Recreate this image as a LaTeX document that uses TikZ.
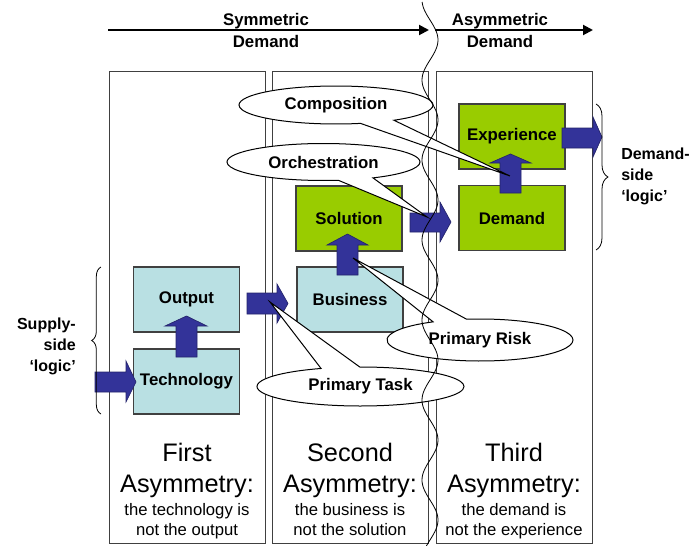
\documentclass[tikz,border=0pt]{standalone}
\usepackage{fontspec}
\setmainfont{Liberation Sans}
\usetikzlibrary{shapes.callouts,decorations.pathreplacing,arrows.meta}
\definecolor{lblue}{HTML}{B9E0E3}
\definecolor{lgreen}{HTML}{99CC00}
\definecolor{barrow}{HTML}{333399}
\begin{document}
\begin{tikzpicture}[x=0.75pt,y=-0.75pt,
 panel/.style={draw=black!75, line width=0.75pt, fill=white, minimum width=117pt, minimum height=354pt, inner sep=0},
 bbox/.style={draw=black!75, line width=0.9pt, minimum width=79.5pt, minimum height=48.75pt, inner sep=0, font=\fontsize{12.6}{15}\selectfont\bfseries},
 blk/.style={fill=barrow, draw=barrow!70!black, line width=0.5pt},
 call/.style={ellipse callout, draw=black, fill=white, line width=0.75pt, inner sep=0, callout pointer arc=22, font=\fontsize{12.6}{15}\selectfont\bfseries},
 lab/.style={font=\fontsize{12.6}{15.75}\selectfont\bfseries},
 sidelab/.style={font=\fontsize{12}{15.75}\selectfont\bfseries, inner sep=0},
 big/.style={font=\fontsize{19}{23}\selectfont, inner sep=0},
 small/.style={font=\fontsize{12.5}{15}\selectfont, inner sep=0},
 toparrow/.style={line width=1.5pt, -{Triangle[length=7.5pt,width=7.5pt]}},
]
\useasboundingbox (0,0) rectangle (694,546);

% top arrows
\coordinate (s1) at (108,30);
\coordinate (e1) at (429,30);
\coordinate (s2) at (435,30);
\coordinate (e2) at (593,30);
\draw[toparrow] (s1) -- (e1);
\draw[toparrow] (s2) -- (e2);
\node[lab, anchor=base] (sym1) at (266,26) {Symmetric};
\node[lab, anchor=base] (sym2) at (266,47) {Demand};
\node[lab, anchor=base] (asy1) at (500,26) {Asymmetric};
\node[lab, anchor=base] (asy2) at (500,47) {Demand};

% panels
\node[panel] (p1) at (187,307) {};
\node[panel] (p2) at (350,307) {};
\node[panel] (p3) at (514,307) {};

% boxes
\node[bbox, fill=lblue] (output) at (186.5,299.5) {Output};
\node[bbox, fill=lblue] (tech) at (186.5,381.5) {Technology};
\node[bbox, fill=lblue] (business) at (350,299.5) {Business};
\node[bbox, fill=lgreen] (solution) at (349,218.5) {Solution};
\node[bbox, fill=lgreen] (experience) at (512,136.5) {Experience};
\node[bbox, fill=lgreen] (demand) at (512,218) {Demand};

% block arrows (up)
\draw[blk] (176,357) -- (197,357) -- (197,326) -- (207,326) -- (186.5,316) -- (165,326) -- (176,326) -- cycle;
\draw[blk] (337,275) -- (358,275) -- (358,245) -- (368,245) -- (347.5,234) -- (327,245) -- (337,245) -- cycle;
\draw[blk] (500,193) -- (521,193) -- (521,163) -- (531,163) -- (510.5,154) -- (490,163) -- (500,163) -- cycle;
% block arrows (right)
\draw[blk] (95,372) -- (126,372) -- (126,361) -- (136,382) -- (126,402) -- (126,392) -- (95,392) -- cycle;
\draw[blk] (247,293) -- (277,293) -- (277,284) -- (288,303.5) -- (277,323) -- (277,314) -- (247,314) -- cycle;
\draw[blk] (410,213) -- (440,213) -- (440,202) -- (451,222) -- (440,242) -- (440,232) -- (410,232) -- cycle;
\draw[blk] (562,128) -- (593,128) -- (593,117) -- (602,137) -- (593,157) -- (593,148) -- (562,148) -- cycle;

% callouts
\coordinate (tipC) at (510,176);
\coordinate (tipO) at (427,217);
\coordinate (tipR) at (353,258);
\coordinate (tipT) at (270,302);
\node[call, minimum width=145.5pt, minimum height=28.5pt, callout absolute pointer=(tipC)] (comp) at (336,105) {Composition};
\node[call, minimum width=144.75pt, minimum height=27.75pt, callout absolute pointer=(tipO)] (orch) at (323.5,162) {Orchestration};
\node[call, minimum width=139.5pt, minimum height=31.5pt, callout absolute pointer=(tipR)] (risk) at (480,340) {Primary Risk};
\node[call, minimum width=155.25pt, minimum height=29.25pt, callout absolute pointer=(tipT)] (task) at (360.5,386.5) {Primary Task};

% wavy separator
\draw[line width=0.6pt] plot[smooth, domain=2:546, samples=120] ({430+8*sin(4.5*(\x-40)+90)}, \x);

% braces
\draw[decorate, decoration={brace, amplitude=7pt}, line width=0.6pt] (101,414) -- (101,267);
\draw[decorate, decoration={brace, amplitude=9pt}, line width=0.6pt] (596,104) -- (596,250);
\node[sidelab, align=right, anchor=east] (supply) at (76,346) {Supply-\\side\\‘logic’};
\node[sidelab, align=left, anchor=west] (dside) at (621,176) {Demand-\\side\\‘logic’};

% bottom texts
\node[big, anchor=base] (f1) at (187,461) {First};
\node[big, anchor=base] (f2) at (187,492) {Asymmetry:};
\node[small, anchor=base] (f3) at (187,515) {the technology is};
\node[small, anchor=base] (f4) at (187,535) {not the output};
\node[big, anchor=base] (s1t) at (350,461) {Second};
\node[big, anchor=base] (s2t) at (350,492) {Asymmetry:};
\node[small, anchor=base] (s3t) at (350,515) {the business is};
\node[small, anchor=base] (s4t) at (350,535) {not the solution};
\node[big, anchor=base] (t1) at (514,461) {Third};
\node[big, anchor=base] (t2) at (514,492) {Asymmetry:};
\node[small, anchor=base] (t3) at (514,515) {the demand is};
\node[small, anchor=base] (t4) at (514,535) {not the experience};
\end{tikzpicture}
\end{document}
